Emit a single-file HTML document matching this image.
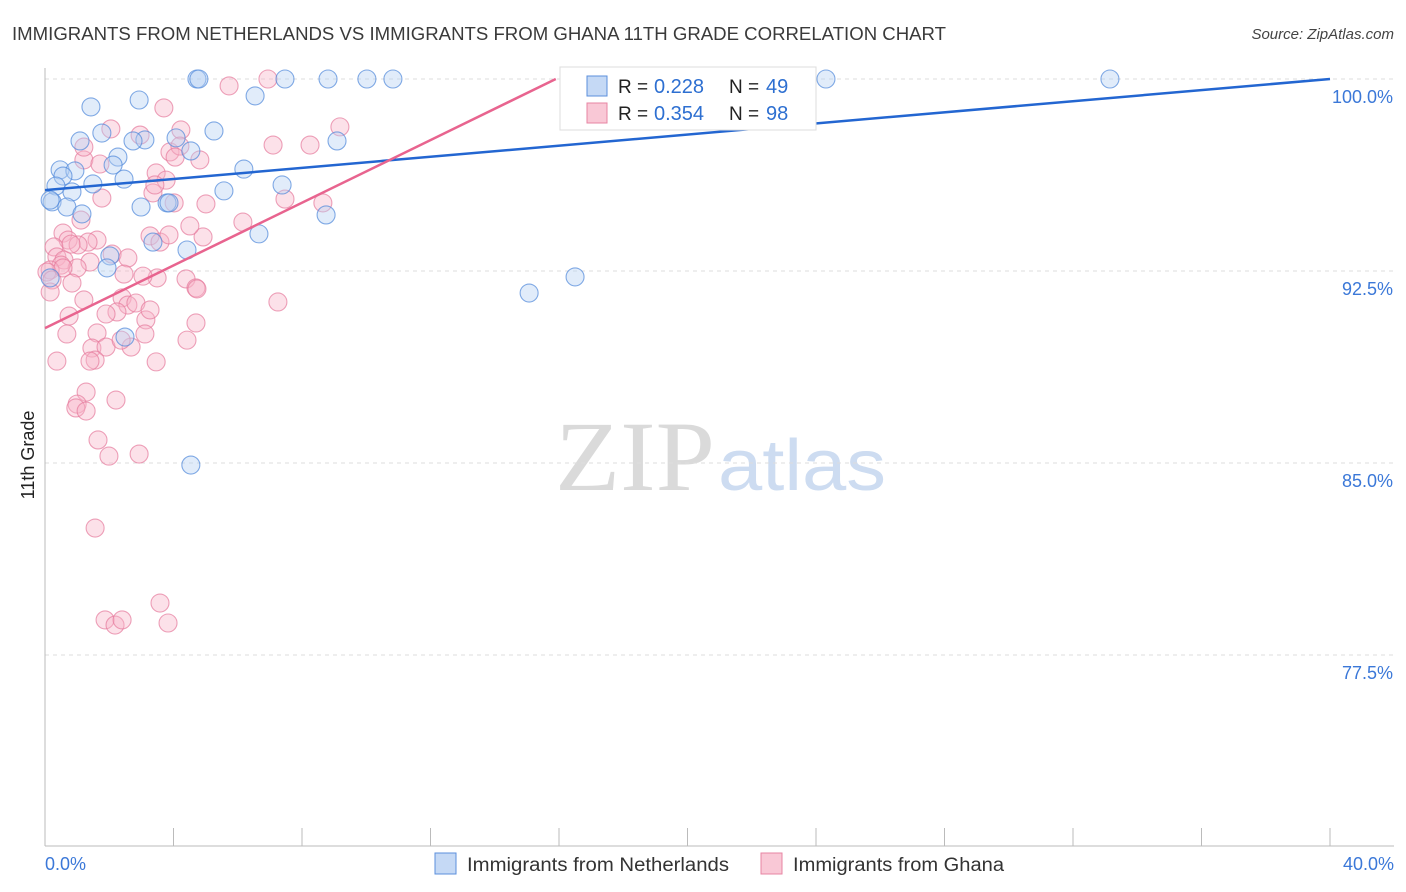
<!DOCTYPE html>
<html><head><meta charset="utf-8">
<style>
body{margin:0;background:#fff;font-family:"Liberation Sans",sans-serif;}
#wrap{position:relative;width:1406px;height:892px;overflow:hidden;}
</style></head>
<body>
<div id="wrap">
<svg id="chart" width="1406" height="892">
<text x="12" y="40" font-size="18" fill="#3a3a3a" textLength="934" lengthAdjust="spacingAndGlyphs">IMMIGRANTS FROM NETHERLANDS VS IMMIGRANTS FROM GHANA 11TH GRADE CORRELATION CHART</text>
<text x="1394" y="39" font-size="15" font-style="italic" fill="#444" text-anchor="end">Source: ZipAtlas.com</text>
<text x="555" y="490" font-size="100" font-family="Liberation Serif,serif" fill="#dadada" textLength="160" lengthAdjust="spacingAndGlyphs">ZIP</text>
<text x="718" y="490" font-size="72" fill="#cddcf1" textLength="168" lengthAdjust="spacingAndGlyphs">atlas</text>
<text transform="translate(34,455) rotate(-90)" font-size="18" fill="#222" text-anchor="middle">11th Grade</text>
<g id="grid"></g><g id="axes"></g><g id="pts"></g><g id="lines"></g>
<g>
<rect x="560" y="67" width="256" height="63" fill="#fff" stroke="#ddd"/>
<rect x="587" y="76" width="20" height="20" fill="#c5d9f5" stroke="#5b8fdc"/>
<text x="618" y="93" font-size="19" fill="#222">R =</text>
<text x="654" y="93" font-size="20" fill="#2d6fd1">0.228</text>
<text x="729" y="93" font-size="19" fill="#222">N =</text>
<text x="766" y="93" font-size="20" fill="#2d6fd1">49</text>
<rect x="587" y="103" width="20" height="20" fill="#f9c8d6" stroke="#e784a3"/>
<text x="618" y="120" font-size="19" fill="#222">R =</text>
<text x="654" y="120" font-size="20" fill="#2d6fd1">0.354</text>
<text x="729" y="120" font-size="19" fill="#222">N =</text>
<text x="766" y="120" font-size="20" fill="#2d6fd1">98</text>
</g>
<g>
<rect x="435" y="853" width="21" height="21" fill="#c5d9f5" stroke="#5b8fdc"/>
<text x="467" y="871" font-size="19" fill="#333" textLength="262" lengthAdjust="spacingAndGlyphs">Immigrants from Netherlands</text>
<rect x="761" y="853" width="21" height="21" fill="#f9c8d6" stroke="#e784a3"/>
<text x="793" y="871" font-size="19" fill="#333" textLength="211" lengthAdjust="spacingAndGlyphs">Immigrants from Ghana</text>
</g>
</svg>
</div>
<script>
const yTicks=[100,92.5,85,77.5];
const yTickLabels=["100.0%","92.5%","85.0%","77.5%"];
const xTicks=[0,4,8,12,16,20,24,28,32,36,40];
const xEndLabels=["0.0%","40.0%"];
const blueX=[4.73,4.79,7.47,8.81,10.02,10.83,24.31,33.15,1.43,2.93,6.54,1.09,1.77,3.11,5.26,4.08,2.74,9.09,2.27,2.12,4.54,0.47,0.93,6.19,0.56,2.46,1.49,0.34,0.84,7.38,5.57,0.22,0.68,2.99,3.80,1.15,8.75,6.66,3.36,4.42,2.02,1.93,0.16,16.50,15.07,2.49,4.54,3.86,0.16];
const blueY=[100,100,100,100,100,100,100,100,98.91,99.18,99.34,97.58,97.89,97.62,97.97,97.70,97.58,97.58,96.95,96.64,97.19,96.45,96.41,96.48,96.21,96.09,95.90,95.82,95.59,95.86,95.63,95.20,95.00,95.00,95.16,94.73,94.69,93.95,93.63,93.32,93.09,92.62,92.23,92.27,91.64,89.92,84.92,95.16,95.27];
const pinkX=[6.94,5.73,3.70,7.10,8.25,2.05,2.96,4.23,3.89,4.20,4.05,4.82,1.21,1.71,3.46,3.77,9.18,3.36,1.77,5.01,4.02,6.16,7.47,8.65,1.12,0.56,1.62,0.72,0.28,3.27,3.58,3.86,4.92,1.34,0.37,0.59,1.40,1.00,0.50,0.16,0.06,0.22,0.84,2.09,2.58,2.46,3.49,4.39,4.70,4.73,7.25,1.21,0.75,2.40,2.58,2.24,1.90,2.83,1.62,3.14,0.68,3.11,4.70,1.46,1.90,2.68,4.42,1.56,0.37,1.40,3.46,1.28,2.21,1.00,0.96,1.28,1.65,1.99,2.93,1.56,1.87,2.18,2.40,3.58,3.83,0.16,1.21,0.56,1.03,3.42,4.51,3.05,3.27,2.37,0.81];
const pinkY=[100,99.73,98.87,97.42,97.42,98.05,97.81,98.01,97.15,97.38,96.95,96.84,96.84,96.68,96.33,96.05,98.13,95.55,95.35,95.12,95.16,94.41,95.31,95.16,94.49,93.98,93.71,93.71,93.44,93.87,93.63,93.91,93.83,93.63,93.05,92.93,92.85,92.62,92.73,92.54,92.46,92.15,92.03,93.16,93.01,92.38,92.23,92.19,91.84,91.80,91.29,91.37,90.74,91.45,91.17,90.90,90.82,91.25,90.08,90.59,90.04,90.04,90.47,89.49,89.53,89.53,89.80,89.02,88.98,88.98,88.95,87.77,87.46,87.30,87.15,87.03,85.90,85.27,85.35,82.46,78.87,78.67,78.87,79.53,78.75,91.68,97.34,92.62,93.52,95.86,94.26,92.30,90.98,89.80,93.55];
const trendBlue=[95.66,40,100];
const trendPink=[90.27,15.9,100];
const NS="http://www.w3.org/2000/svg";
const X0=45,X1=1330,xMax=40;
function sx(v){return X0+(X1-X0)*v/xMax;}
function sy(v){return 79+(100-v)*192/7.5;}
function mk(tag,attrs,parent){const e=document.createElementNS(NS,tag);for(const k in attrs)e.setAttribute(k,attrs[k]);parent.appendChild(e);return e;}
const grid=document.getElementById('grid'),axes=document.getElementById('axes'),pts=document.getElementById('pts'),lines=document.getElementById('lines');
yTicks.forEach((t,i)=>{
  const l=mk('line',{x1:X0,x2:1394,y1:sy(t),y2:sy(t),stroke:'#ddd','stroke-dasharray':'4,4'},grid);
  
  
  const tx=mk('text',{x:1393,y:sy(t)+24,'font-size':18,fill:'#3b78d8','text-anchor':'end'},axes);
  tx.textContent=yTickLabels[i];
  
  
});
const ax=mk('line',{x1:X0,x2:X0,y1:68,y2:846,stroke:'#bbb'},axes);


const bx=mk('line',{x1:X0,x2:1394,y1:846,y2:846,stroke:'#bbb'},axes);


xTicks.forEach(t=>{
  const l=mk('line',{x1:sx(t),x2:sx(t),y1:828,y2:846,stroke:'#bbb'},axes);
  
  
});
[[0,'start',45],[40,'end',1394]].forEach((d,i)=>{
  const tx=mk('text',{x:d[2],y:870,'font-size':18,fill:'#3b78d8','text-anchor':d[1]},axes);
  tx.textContent=xEndLabels[i];
  
  
});
function dots(xs,ys,fill,stroke,name){
  xs.forEach((x,i)=>{
    const c=mk('circle',{cx:sx(x),cy:sy(ys[i]),r:9,fill:fill,'fill-opacity':0.4,stroke:stroke,'stroke-width':1.1,'stroke-opacity':0.7},pts);
    
    
  });
}
dots(pinkX,pinkY,'#f7b5c9','#e57a9c','ghana-point');
dots(blueX,blueY,'#b3cff2','#4f88da','netherlands-point');
const lb=mk('line',{x1:sx(0),y1:sy(trendBlue[0]),x2:sx(trendBlue[1]),y2:sy(trendBlue[2]),stroke:'#2366d1','stroke-width':2.5},lines);


const lp=mk('line',{x1:sx(0),y1:sy(trendPink[0]),x2:sx(trendPink[1]),y2:sy(trendPink[2]),stroke:'#e8648f','stroke-width':2.5},lines);


</script>
</body></html>
